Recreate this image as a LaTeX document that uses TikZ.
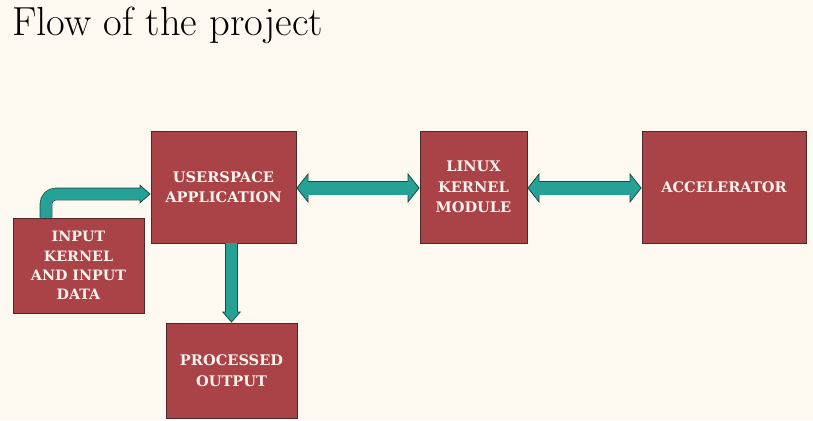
\documentclass[tikz,border=0pt]{standalone}
\usepackage{fontspec}
\usepackage{xcolor}
\usepackage{tikz}
\usetikzlibrary{arrows.meta, calc}

\newfontfamily\boxfont{DejaVu Serif}

\definecolor{bgcream}{HTML}{FFFAF1}
\definecolor{boxred}{HTML}{A94347}
\definecolor{boxline}{HTML}{4A2A2A}
\definecolor{boxtext}{HTML}{FFF3EE}
\definecolor{arrteal}{HTML}{26A196}
\definecolor{arrline}{HTML}{1E4A44}

\tikzset{
  bighead/.tip={Triangle[length=12pt, width=30pt, fill=arrteal, color=arrline, line width=0.8pt]},
  smallhead/.tip={Triangle[length=11pt, width=19pt, fill=arrteal, color=arrline, line width=0.8pt]},
  block/.style={draw=boxline, line width=0.8pt, fill=boxred, text=boxtext,
    font=\boxfont\bfseries\fontsize{14.6}{20.5}\selectfont, align=center, inner sep=0pt},
  dblarrow/.style={draw=arrteal, line width=13pt, bighead-bighead,
    preaction={draw=arrline, line width=14.6pt, arrows=-, shorten <=11pt, shorten >=11pt},
    postaction={draw=arrteal, line width=13pt, arrows=-, shorten <=9pt, shorten >=9pt}},
  sglarrow/.style={draw=arrteal, line width=11pt, -smallhead,
    preaction={draw=arrline, line width=12.6pt, arrows=-, shorten >=10pt},
    postaction={draw=arrteal, line width=11pt, arrows=-, shorten >=8pt}}
}

\begin{document}
\begin{tikzpicture}[x=1pt, y=-1pt]
  % page
  \fill[bgcream] (0,0) rectangle (813,420);
  \useasboundingbox (0,0) rectangle (813,420);

  % title
  \node[anchor=base west, inner sep=0pt, font=\fontsize{40.6}{44}\selectfont] (title) at (12,36) {Flow of the project};

  % blocks
  \node[block, minimum width=145pt, minimum height=112pt] (user) at (223.5,187) {USERSPACE\\APPLICATION};
  \node[block, minimum width=107pt, minimum height=112pt] (lkm) at (473.5,187) {LINUX\\KERNEL\\MODULE};
  \node[block, minimum width=164pt, minimum height=112pt] (acc) at (724,187) {ACCELERATOR};
  \node[block, minimum width=131pt, minimum height=95pt,
    font=\boxfont\bfseries\fontsize{14.3}{19.3}\selectfont] (inp) at (78.5,265.5) {INPUT\\KERNEL\\AND INPUT\\DATA};
  \node[block, minimum width=131pt, minimum height=95pt] (out) at (231.5,370.5) {PROCESSED\\OUTPUT};

  % connectors
  \draw[sglarrow, rounded corners=10pt] ([xshift=-32.5pt]inp.north) |- ([yshift=-7pt]user.west);
  \draw[dblarrow] ([yshift=-1pt]user.east) -- ([yshift=-1pt]lkm.west);
  \draw[dblarrow] ([yshift=-1pt]lkm.east) -- ([yshift=-1pt]acc.west);
  \draw[sglarrow] (user.south -| out.north) -- (out.north);
\end{tikzpicture}
\end{document}
